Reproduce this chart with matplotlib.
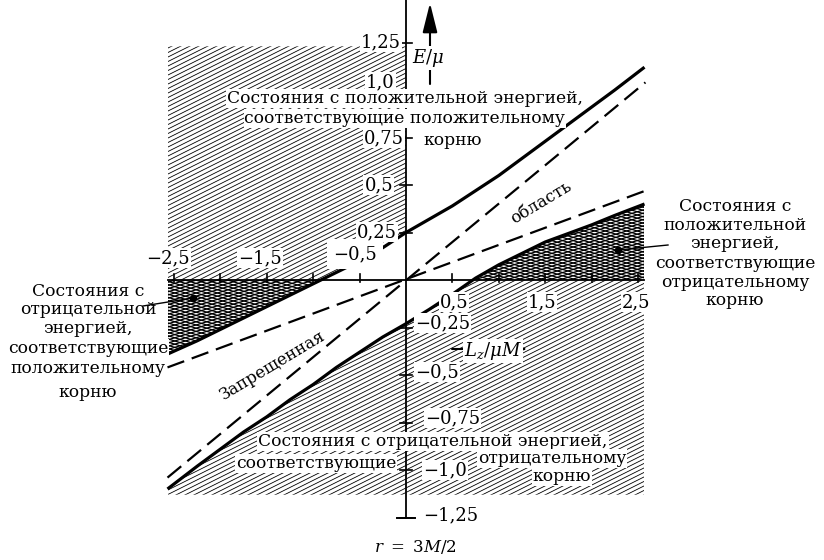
import numpy as np
import matplotlib
matplotlib.use("Agg")
import matplotlib.pyplot as plt
from matplotlib.collections import LineCollection
from matplotlib.lines import Line2D
from matplotlib.transforms import Bbox, TransformedBbox

plt.rcParams["font.family"] = ["DejaVu Serif"]
plt.rcParams["mathtext.fontset"] = "dejavuserif"

# ---------------- data ----------------
L_grid = [-2.57, -2.25, -2.0, -1.75, -1.5, -1.25, -1.0, -0.75, -0.5, -0.25, 0.0,
          0.25, 0.5, 0.75, 1.0, 1.25, 1.5, 1.75, 2.0, 2.25, 2.57]
E_plus = [-0.39, -0.32, -0.26, -0.20, -0.14, -0.08, -0.02, 0.04, 0.10, 0.17, 0.25,
          0.32, 0.39, 0.47, 0.55, 0.64, 0.73, 0.82, 0.91, 1.00, 1.12]
E_minus = [-1.10, -0.98, -0.89, -0.80, -0.72, -0.63, -0.55, -0.46, -0.38, -0.30, -0.23,
           -0.155, -0.075, 0.01, 0.08, 0.14, 0.20, 0.245, 0.29, 0.34, 0.40]
asym_L = [-2.57, 2.58]
asym_steep = [-1.04, 1.04]
asym_shallow = [-0.46, 0.47]
E_top_region = 1.23
E_bottom_region = -1.13

x_ticks = [-2.5, -2.0, -1.5, -1.0, -0.5, 0.5, 1.0, 1.5, 2.0, 2.5]
y_ticks = [-1.25, -1.0, -0.75, -0.5, -0.25, 0.25, 0.5, 0.75, 1.0, 1.25]
x_ticklabels = ["−2,5", "−1,5", "−0,5", "0,5", "1,5", "2,5"]
y_ticklabels_pos = ["1,25", "1,0", "0,75", "0,5", "0,25"]
y_ticklabels_neg = ["−0,25", "−0,5", "−0,75", "−1,0", "−1,25"]

# ---------------- layout ----------------
W, H = 824, 560
X0, Y0 = 406, 280          # pixel position of origin
SX, SY = 92.8, 190.0       # pixels per unit

fig = plt.figure(figsize=(W / 100, H / 100), dpi=100)
ax = fig.add_axes([0, 0, 1, 1])
ax.set_xlim(-X0 / SX, (W - X0) / SX)
ax.set_ylim(-(H - Y0) / SY, Y0 / SY)
ax.axis("off")

L = np.array(L_grid)
Ep = np.array(E_plus)
Em = np.array(E_minus)


def P(x, y):
    return (x / W, 1 - y / H)


def hatch(poly, box, slopes_px, spacing_px, lw, z=1):
    (l0, e0), (l1, e1) = box
    segs = []
    for sp in slopes_px:
        m = sp * SX / SY
        dc = spacing_px / SY
        cmin = min(e0 - m * l0, e0 - m * l1) - dc
        cmax = max(e1 - m * l0, e1 - m * l1) + dc
        for c in np.arange(cmin, cmax, dc):
            segs.append([(l0, m * l0 + c), (l1, m * l1 + c)])
    lc = LineCollection(segs, colors="black", linewidths=lw, zorder=z)
    ax.add_collection(lc)
    lc.set_clip_path(poly.get_paths()[0], ax.transData)
    lc.set_clip_box(TransformedBbox(Bbox([[l0, e0], [l1, e1]]), ax.transData))
    return lc


# region polygons (invisible, used as clip paths)
poly_top = ax.fill_between(L, Ep, E_top_region, facecolor="none", edgecolor="none")
poly_bot = ax.fill_between(L, E_bottom_region, Em, facecolor="none", edgecolor="none")
poly_lcross = ax.fill_between(L, Ep, 0.0, facecolor="none", edgecolor="none")
poly_rcross = ax.fill_between(L, 0.0, Em, facecolor="none", edgecolor="none")

hatch(poly_top, [(L[0], 0.0), (0.0, E_top_region)], [0.5], 4.5, 0.6)
hatch(poly_bot, [(L[0], E_bottom_region), (L[-1], 0.0)], [0.5], 4.5, 0.6)
hatch(poly_lcross, [(L[0], -1.0), (0.0, 0.0)], [0.3, -0.3], 3.2, 0.9)
hatch(poly_rcross, [(0.0, 0.0), (L[-1], 1.0)], [0.3, -0.3], 3.2, 0.9)

# curves
ax.plot(L, Ep, color="black", lw=2.3, zorder=3, solid_capstyle="butt")
ax.plot(L, Em, color="black", lw=2.3, zorder=3, solid_capstyle="butt")
ax.plot(asym_L, asym_steep, color="black", lw=1.6, ls=(0, (8, 3.6)), zorder=3)
ax.plot(asym_L, asym_shallow, color="black", lw=1.6, ls=(0, (8, 3.6)), zorder=3)

# axes
ax.plot([-2.57, 2.57], [0, 0], color="black", lw=1.3, zorder=3)
ax.plot([0, 0], [y_ticks[0], Y0 / SY], color="black", lw=1.3, zorder=3)
for t in x_ticks:
    ax.plot([t, t], [-2 / SY, 6 / SY], color="black", lw=1.2, zorder=3)
for t in y_ticks:
    ax.plot([-6 / SX, 6 / SX], [t, t], color="black", lw=1.2, zorder=3)
ax.plot([-9 / SX, 9 / SX], [y_ticks[0], y_ticks[0]], color="black", lw=1.4, zorder=3)

FS = 13
FT = 12.3


def T(x, y, s, ha="center", size=FT, bg=True, rot=0, va="baseline", pad=0.6, z=6, **kw):
    bb = dict(facecolor="white", edgecolor="none", pad=pad) if bg else None
    return fig.text(*P(x, y), s, ha=ha, va=va, fontsize=size, rotation=rot,
                    bbox=bb, zorder=z, **kw)


# annotations (drawn below tick labels)
T(405, 103, "Состояния с положительной энергией,", z=5)
T(405, 123, "соответствующие положительному", z=5)
T(453, 145, "корню", z=5)

# tick labels
for s, (x, y), p in zip(x_ticklabels, [(168, 263), (260, 263), (355, 259),
                                       (454, 307), (542, 307), (636, 307)],
                        [0.6, 0.6, 4.5, 0.6, 0.6, 0.6]):
    T(x, y, s, size=FS, pad=p)
for s, (x, y) in zip(y_ticklabels_pos, [(401, 47), (395, 87), (404, 143),
                                        (393, 190), (397, 237)]):
    T(x, y, s, ha="right", size=FS)
for s, (x, y) in zip(y_ticklabels_neg, [(415, 328), (415, 377), (425, 423),
                                        (423, 475), (423, 520)]):
    T(x, y, s, ha="left", size=FS)

for s, y in zip(["Состояния с", "отрицательной", "энергией,", "соответствующие",
                 "положительному", "корню"], [296, 314, 333, 353, 373, 397]):
    T(88, y, s)
for s, y in zip(["Состояния с", "положительной", "энергией,", "соответствующие",
                 "отрицательному", "корню"], [211, 230, 248, 268, 287, 305]):
    T(735, y, s)

T(433, 446, "Состояния с отрицательной энергией,")
T(316, 468, "соответствующие")
T(552, 463, "отрицательному")
T(562, 481, "корню")

T(272, 366, "Запрещенная", size=12, bg=False, rot=31, va="center")
T(541, 203, "область", size=12, bg=False, rot=31, va="center")

# pointer lines with dots
for (xa, ya), (xb, yb) in [((143, 306), (193, 298)), ((668, 245), (618, 250))]:
    fig.add_artist(Line2D([xa / W, xb / W], [1 - ya / H, 1 - yb / H],
                          color="black", lw=1.0, zorder=7))
    fig.add_artist(Line2D([xb / W], [1 - yb / H], marker="o", ms=4.5,
                          color="black", zorder=7))

# axis arrows and labels
ax.annotate("", xy=P(430, 3), xytext=P(430, 84), xycoords="figure fraction",
            textcoords="figure fraction",
            arrowprops=dict(arrowstyle="-|>,head_length=1.8,head_width=0.45",
                            lw=1.5, color="black", shrinkA=0, shrinkB=0), zorder=5)
T(428, 63, r"$E/\mu$", size=13)
ax.annotate("", xy=P(528, 349), xytext=P(452, 349), xycoords="figure fraction",
            textcoords="figure fraction",
            arrowprops=dict(arrowstyle="-|>,head_length=1.2,head_width=0.35",
                            lw=1.5, color="black", shrinkA=0, shrinkB=0), zorder=5)
T(493, 356, r"$L_z/\mu M$", size=13)

T(415, 552, r"$\mathbf{\mathit{r}}\ =\ 3M/2$", size=12, bg=False)

fig.savefig("out.png", dpi=100)
